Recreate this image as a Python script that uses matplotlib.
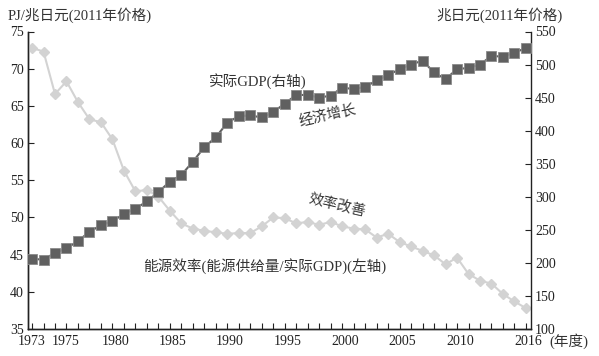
import matplotlib
matplotlib.use("Agg")
import matplotlib.pyplot as plt
from matplotlib.transforms import ScaledTranslation

plt.rcParams['font.family'] = ['Liberation Serif', 'Noto Sans CJK SC', 'DejaVu Sans']

years = list(range(1973, 2017))
efficiency = [72.8, 72.3, 66.6, 68.3, 65.5, 63.2, 62.8, 60.5, 56.3, 53.5,
              53.7, 52.8, 50.9, 49.2, 48.5, 48.2, 48.0, 47.8, 47.9, 47.9,
              48.8, 50.0, 49.9, 49.2, 49.4, 49.0, 49.4, 48.8, 48.5, 48.4,
              47.3, 47.8, 46.7, 46.1, 45.5, 44.9, 43.7, 44.6, 42.4, 41.5,
              41.1, 39.7, 38.7, 37.8]
gdp = [206, 205, 215, 222, 233, 247, 257, 263, 274, 282,
       293, 307, 323, 333, 353, 375, 390, 412, 422, 423,
       420, 428, 441, 454, 454, 450, 453, 465, 463, 466,
       476, 484, 493, 500, 506, 488, 478, 493, 495, 500,
       513, 512, 518, 525]
xtick_labels = [1973, 1975, 1980, 1985, 1990, 1995, 2000, 2005, 2010, 2016]

W, H = 599, 356
fig = plt.figure(figsize=(W / 100, H / 100), dpi=100)
ax = fig.add_axes([28 / W, 1 - 329 / H, (531 - 28) / W, (329 - 31.5) / H])
ax2 = ax.twinx()

light = '#d3d3d3'
dark = '#606060'
ax.plot(years, efficiency, color=light, lw=1.5, marker='D', ms=5.5,
        mfc=light, mec=light, zorder=3)
ax2.plot(years, gdp, color=dark, lw=1.5, marker='s', ms=7.5,
         mfc=dark, mec='#8a8a8a', mew=0.6, zorder=4)

ax.set_xlim(1972.65, 2016.44)
ax.set_ylim(35, 75)
ax2.set_ylim(100, 550)
ax.set_yticks(range(35, 80, 5))
ax2.set_yticks(range(100, 600, 50))
ax.set_xticks(years)
ax.set_xticklabels([str(y) if y in xtick_labels else '' for y in years])

fs = 10
for a in (ax, ax2):
    a.spines['top'].set_visible(False)
    for s in a.spines.values():
        s.set_linewidth(1.0)
        s.set_color('#222222')
ax.tick_params(axis='x', direction='in', length=4, width=0.8, labelsize=fs, pad=4, colors='#222222')
ax.tick_params(axis='y', direction='in', length=4, width=0.8, labelsize=fs, pad=3, colors='#222222')
ax2.tick_params(axis='y', direction='in', length=4, width=0.8, labelsize=fs, pad=3, colors='#222222')
ax.spines['right'].set_visible(False)

# nudge labels slightly right as in the reference; 1975 more to avoid 1973
offset = ScaledTranslation(2 / 72, 0, fig.dpi_scale_trans)
for tick, y in zip(ax.xaxis.get_major_ticks(), years):
    if y == 1975:
        tick.label1.set_horizontalalignment('left')
        tick.label1.set_transform(tick.label1.get_transform() + ScaledTranslation(-2 / 72, 0, fig.dpi_scale_trans))
    elif y != 1973:
        tick.label1.set_transform(tick.label1.get_transform() + offset)

tc = '#333333'
fig.text(8 / W, 1 - 15 / H, 'PJ/兆日元(2011年价格)', fontsize=10.5, ha='left', va='center', color=tc)
fig.text(563 / W, 1 - 15 / H, '兆日元(2011年价格)', fontsize=10.5, ha='right', va='center', color=tc)
fig.text(549 / W, 1 - 341 / H, '(年度)', fontsize=10.5, ha='left', va='center', color=tc)

fig.text(209 / W, 1 - 81 / H, '实际GDP(右轴)', fontsize=10.5, ha='left', va='center', color=tc)
fig.text(328 / W, 1 - 116 / H, '经济增长', fontsize=10.5, ha='center', va='center', rotation=13, color=tc)
fig.text(337 / W, 1 - 206 / H, '效率改善', fontsize=10.5, ha='center', va='center', rotation=-13, color=tc)
fig.text(143 / W, 1 - 266 / H, '能源效率(能源供给量/实际GDP)(左轴)', fontsize=10.5, ha='left', va='center', color=tc)

fig.savefig('out.png', dpi=100)
